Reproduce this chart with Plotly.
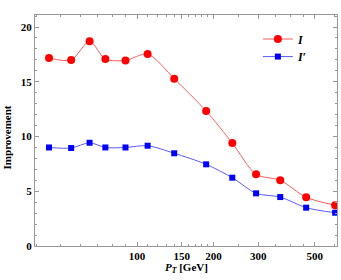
import plotly.graph_objects as go

pt = [45, 55, 65, 75, 90, 110, 140, 187, 237, 294, 366, 463, 602]
imp_I = [17.17, 16.99, 18.7, 17.08, 16.95, 17.53, 15.28, 12.33, 9.4, 6.55, 6.0, 4.45, 3.72]
imp_Ip = [9.0, 8.95, 9.43, 9.0, 9.0, 9.16, 8.47, 7.46, 6.24, 4.81, 4.47, 3.5, 3.04]
xticks = [100, 150, 200, 300, 500]
yticks = [0, 5, 10, 15, 20]

FONT = "Liberation Serif"
fig = go.Figure()
fig.add_trace(go.Scatter(
    x=pt, y=imp_I, mode="lines+markers", name="<i>I</i>", legend="legend",
    line=dict(color="#ff5a5a", width=1, shape="spline", smoothing=0.8),
    marker=dict(color="#ff0000", size=8, symbol="circle"),
))
fig.add_trace(go.Scatter(
    x=pt, y=imp_Ip, mode="lines+markers", name="<i>I\u2032</i>", legend="legend2",
    line=dict(color="#5a5aff", width=1, shape="spline", smoothing=0.8),
    marker=dict(color="#0000ff", size=6, symbol="square"),
))

axis_common = dict(
    showline=True, linecolor="#999999", linewidth=1, mirror="allticks",
    ticks="inside", tickcolor="#999999", ticklen=4, showgrid=False, zeroline=False,
    automargin=False,
    tickfont=dict(family=FONT, size=11, color="black", weight="bold"),
)
fig.update_xaxes(
    type="log", range=[1.598, 2.787], tickvals=xticks, ticktext=[str(v) for v in xticks],
    minor=dict(ticks="inside", ticklen=2, tickcolor="#999999",
               tickvals=[40, 50, 60, 70, 80, 90, 110, 120, 130, 140, 160, 170, 180, 190, 250, 350, 400, 450, 600]),
    **axis_common,
)
fig.update_yaxes(
    range=[0, 21.1], tickvals=yticks,
    minor=dict(ticks="inside", ticklen=2, tickcolor="#999999", dtick=1),
    **axis_common,
)
fig.add_annotation(
    text="<i>P</i><sub><i>T</i></sub> [GeV]", xref="paper", yref="paper",
    x=0.5, y=0, yshift=-22, xanchor="center", yanchor="middle", showarrow=False,
    font=dict(family=FONT, size=11, color="black", weight="bold"),
)
fig.add_annotation(
    text="Improvement", xref="paper", yref="paper", textangle=-90,
    x=0, y=0.47, xshift=-28, xanchor="center", yanchor="middle", showarrow=False,
    font=dict(family=FONT, size=11, color="black", weight="bold"),
)
leg_common = dict(xanchor="left", yanchor="middle", bgcolor="rgba(0,0,0,0)",
                  font=dict(family=FONT, size=12, color="black", weight="bold"),
                  itemwidth=30)
fig.update_layout(
    width=341, height=280, margin=dict(l=35, r=4, t=15, b=34),
    paper_bgcolor="white", plot_bgcolor="white",
    showlegend=True,
    legend=dict(x=0.738, y=0.896, **leg_common),
    legend2=dict(x=0.738, y=0.82, **leg_common),
)
fig.write_html("out.html", config={"displayModeBar": False},
               post_script="document.body.style.margin='0px';")
